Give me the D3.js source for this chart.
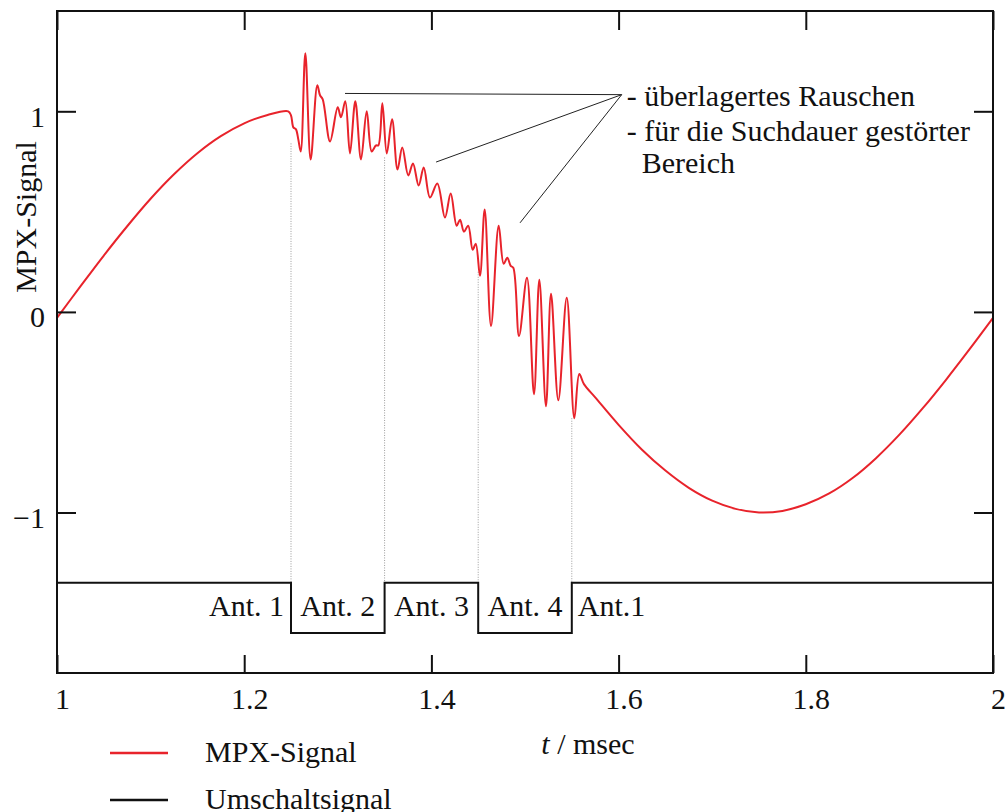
<!DOCTYPE html>
<html>
<head>
<meta charset="utf-8">
<script src="https://cdn.jsdelivr.net/npm/d3@7"></script>
<style>
  body { margin: 0; background: #fff; }
  svg { display: block; }
  text { font-family: "Liberation Serif", "Times New Roman", "DejaVu Serif", serif; font-size: 30px; fill: #111; }
</style>
</head>
<body>
<svg id="chart" width="1006" height="812"></svg>
<script>
// MPX signal: time (msec) and amplitude
const mpxT = [
  1.000, 1.025, 1.050, 1.075, 1.100, 1.125, 1.150, 1.175, 1.200, 1.225, 1.247,
  1.2500, 1.2525, 1.2553, 1.2578, 1.2604, 1.2653, 1.2710, 1.2781, 1.2810, 1.2839,
  1.2917, 1.2999, 1.3034, 1.3080, 1.3130, 1.3187, 1.3248, 1.3309, 1.3362, 1.3408,
  1.3433, 1.3476, 1.3523, 1.3580, 1.3638, 1.3689, 1.3753, 1.3803, 1.3864, 1.3918,
  1.3985, 1.4063, 1.4145, 1.4206, 1.4270, 1.4306, 1.4348, 1.4393, 1.4441, 1.4474,
  1.4519, 1.4569, 1.4637, 1.4719, 1.4772, 1.4811, 1.4847, 1.4875, 1.4936, 1.5021,
  1.5096, 1.5153, 1.5224, 1.5278, 1.5356, 1.5446, 1.5527, 1.5580, 1.5630,
  1.575, 1.600, 1.625, 1.650, 1.675, 1.700, 1.725, 1.750, 1.775, 1.800, 1.825,
  1.850, 1.875, 1.900, 1.925, 1.950, 1.975, 2.000
];
const mpxV = [
  -0.03, 0.127, 0.281, 0.427, 0.564, 0.686, 0.791, 0.876, 0.940, 0.982, 1.00,
  0.98, 0.92, 0.91, 0.86, 0.80, 1.29, 0.76, 1.13, 1.08, 1.06,
  0.85, 1.02, 0.97, 1.05, 0.79, 1.05, 0.76, 1.00, 0.80, 0.83,
  0.83, 1.04, 0.79, 0.96, 0.71, 0.82, 0.68, 0.74, 0.63, 0.72,
  0.57, 0.64, 0.47, 0.59, 0.43, 0.46, 0.40, 0.43, 0.31, 0.34,
  0.18, 0.51, -0.07, 0.43, 0.24, 0.27, 0.23, 0.22, -0.12, 0.17,
  -0.41, 0.16, -0.47, 0.09, -0.44, 0.07, -0.53, -0.31, -0.36,
  -0.426, -0.563, -0.687, -0.791, -0.877, -0.941, -0.982, -1.00, -0.992, -0.959, -0.905,
  -0.828, -0.729, -0.612, -0.480, -0.337, -0.186, -0.03
];

// Antenna switching signal (step after each switch time)
const switchT = [1, 1.25, 1.35, 1.45, 1.55, 2];
const switchV = [-1.35, -1.6, -1.35, -1.6, -1.35, -1.35];
const antLabels = ["Ant. 1", "Ant. 2", "Ant. 3", "Ant. 4", "Ant.1"];

// Dotted guides from the signal down to the switching signal
const markerT = [1.25, 1.35, 1.45, 1.55];
const markerTop = [0.84, 0.77, 0.20, -0.53];

const xTicks = [1, 1.2, 1.4, 1.6, 1.8, 2];
const xTickLabels = ["1", "1.2", "1.4", "1.6", "1.8", "2"];
const yTicks = [-1, 0, 1];
const yTickLabels = ["\u22121", "0", "1"];

// Callout
const noteLines = ["- überlagertes Rauschen", "- für die Suchdauer gestörter", "Bereich"];
const noteTargetT = [1.3077, 1.405, 1.4947];
const noteTargetV = [1.089, 0.747, 0.444];
const noteHub = [1.6033, 1.083];

const legendLabels = ["MPX-Signal", "Umschaltsignal"];
const legendColors = ["#e8232b", "#111"];

const svg = d3.select("#chart");
const L = 57, R = 993, T = 11, B = 673;
const x = d3.scaleLinear().domain([1, 2]).range([L, R]);
const y = d3.scaleLinear().domain([-1.8, 1.5]).range([B, T]);

// Dotted guides
svg.append("g").selectAll("line").data(markerT).join("line")
  .attr("x1", d => x(d)).attr("x2", d => x(d))
  .attr("y1", (d, i) => y(markerTop[i])).attr("y2", y(-1.35))
  .attr("stroke", "#9a9a9a").attr("stroke-width", 1)
  .attr("stroke-dasharray", "1,1.5");

// Switching signal
const sw = switchT.map((t, i) => [t, switchV[i]]);
svg.append("path")
  .attr("d", d3.line().x(d => x(d[0])).y(d => y(d[1])).curve(d3.curveStepAfter)(sw))
  .attr("fill", "none").attr("stroke", "#111").attr("stroke-width", 2);

// Antenna labels
svg.append("g").selectAll("text").data(antLabels).join("text")
  .attr("x", (d, i) => {
    const a = x(switchT[i]), b = x(switchT[i + 1]);
    if (i === 0) return b - 7;
    if (i === antLabels.length - 1) return a + 6;
    return (a + b) / 2;
  })
  .attr("y", 616)
  .attr("text-anchor", (d, i) => i === 0 ? "end" : (i === antLabels.length - 1 ? "start" : "middle"))
  .text(d => d);

// MPX signal
const mpx = mpxT.map((t, i) => [t, mpxV[i]]);
svg.append("path")
  .attr("d", d3.line().x(d => x(d[0])).y(d => y(d[1])).curve(d3.curveCatmullRom.alpha(0.5))(mpx))
  .attr("fill", "none").attr("stroke", legendColors[0]).attr("stroke-width", 2)
  .attr("stroke-linejoin", "round");

// Callout lines
svg.append("g").selectAll("line").data(noteTargetT).join("line")
  .attr("x1", d => x(d)).attr("y1", (d, i) => y(noteTargetV[i]))
  .attr("x2", x(noteHub[0])).attr("y2", y(noteHub[1]))
  .attr("stroke", "#222").attr("stroke-width", 1);

const hx = x(noteHub[0]);
svg.append("g").selectAll("text").data(noteLines).join("text")
  .attr("x", (d, i) => i === 2 ? hx + 20 : hx + 5)
  .attr("y", (d, i) => [106, 141, 173][i])
  .text(d => d);

// Frame
svg.append("rect").attr("x", L).attr("y", T).attr("width", R - L).attr("height", B - T)
  .attr("fill", "none").attr("stroke", "#111").attr("stroke-width", 2);

// Axes with inward ticks
const styleAxis = g => {
  g.select(".domain").remove();
  g.selectAll(".tick line").attr("stroke", "#111").attr("stroke-width", 2);
};
const tickFont = g => g.selectAll(".tick text")
  .style("font-size", "30px")
  .style("font-family", "'Liberation Serif', 'Times New Roman', 'DejaVu Serif', serif")
  .attr("fill", "#111");
svg.append("g").attr("transform", `translate(0,${B})`)
  .call(d3.axisBottom(x).tickValues(xTicks).tickSize(-18).tickFormat((d, i) => xTickLabels[i]))
  .call(styleAxis)
  .call(tickFont)
  .call(g => g.selectAll(".tick text").attr("y", 36).attr("dy", 0).attr("dx", 5));
svg.append("g").attr("transform", `translate(0,${T})`)
  .call(d3.axisTop(x).tickValues(xTicks).tickSize(-19).tickFormat(""))
  .call(styleAxis);
svg.append("g").attr("transform", `translate(${L},0)`)
  .call(d3.axisLeft(y).tickValues(yTicks).tickSize(-19).tickFormat((d, i) => yTickLabels[i]))
  .call(styleAxis)
  .call(tickFont)
  .call(g => g.selectAll(".tick text").attr("x", -12).attr("dy", 0).attr("y", 15));
svg.append("g").attr("transform", `translate(${R},0)`)
  .call(d3.axisRight(y).tickValues(yTicks).tickSize(-19).tickFormat(""))
  .call(styleAxis);

// Axis titles
svg.append("text").attr("transform", "translate(36,217) rotate(-90)")
  .attr("text-anchor", "middle").text("MPX-Signal");
const xt = svg.append("text").attr("x", 588).attr("y", 754).attr("text-anchor", "middle");
xt.append("tspan").style("font-style", "italic").text("t");
xt.append("tspan").text(" / msec");

// Legend
const lg = svg.append("g").selectAll("g").data(legendLabels).join("g")
  .attr("transform", (d, i) => `translate(0,${753 + i * 47})`);
lg.append("line").attr("x1", 110).attr("x2", 168).attr("y1", 0).attr("y2", 0)
  .attr("stroke", (d, i) => legendColors[i]).attr("stroke-width", 2.5);
lg.append("text").attr("x", 205).attr("y", 9).text(d => d);
</script>
</body>
</html>
